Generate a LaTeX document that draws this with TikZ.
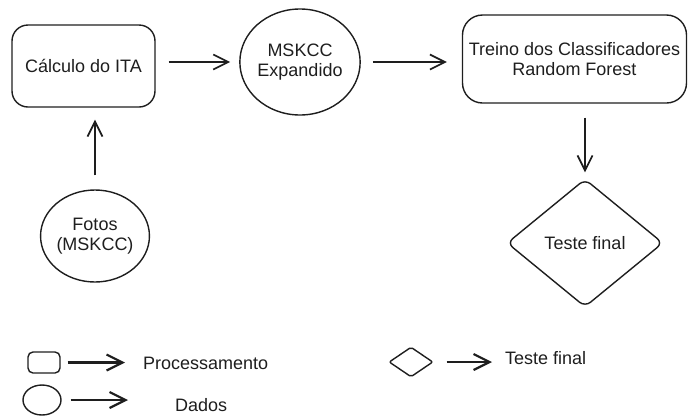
\documentclass[tikz,border=0pt]{standalone}
\usepackage{fontspec}
\setmainfont{Liberation Sans}
\usetikzlibrary{shapes.geometric,arrows.meta}
\definecolor{ink}{HTML}{1E1E1E}
\begin{document}
\begin{tikzpicture}[x=1pt,y=-1pt,
  every node/.style={font=\fontsize{18}{20.5}\selectfont, text=ink, inner sep=0pt, align=center},
  procbox/.style={draw=ink, line width=1.4pt, rectangle, rounded corners=16pt},
  databall/.style={draw=ink, line width=1.4pt, ellipse},
  testdia/.style={draw=ink, line width=1.4pt, diamond, rounded corners=7pt},
  arr/.style={draw=ink, line width=1.7pt, -{Straight Barb[length=15pt,width=15pt]}},
  legarr/.style={draw=ink, line width=2.2pt, -{Straight Barb[length=16pt,width=16pt]}}]
\useasboundingbox (0,0) rectangle (688,416);
% main flow
\node[procbox, minimum width=143pt, minimum height=82pt] (ita) at (83.5,66) {Cálculo do ITA};
\node[databall, minimum width=116pt, minimum height=106pt] (msk) at (300,62) {MSKCC\\Expandido};
\node[procbox, rounded corners=20pt, minimum width=224pt, minimum height=88pt] (tre) at (574.5,59) {Treino dos Classificadores\\Random Forest};
\node[databall, minimum width=102pt, minimum height=92pt] (fot) at (95,236) {Fotos\\(MSKCC)};
\node[testdia, minimum width=156pt, minimum height=128pt] (tst) at (585,243) {Teste final};
\draw[arr, shorten <=13pt, shorten >=9pt] (ita.east |- msk.center) -- (msk.west);
\draw[arr, shorten <=12pt, shorten >=15pt] (msk.east) -- (msk.east -| tre.west);
\draw[arr, shorten <=14pt, shorten >=12pt] (fot.north) -- (fot.north |- ita.south);
\draw[arr, shorten <=14pt, shorten >=6pt] (tst.north |- tre.south) -- (tst.north);
% legend
\node[procbox, rounded corners=5pt, minimum width=32pt, minimum height=21pt] (lp) at (44,362.5) {};
\node[anchor=west] (lpt) at (143,363) {Processamento};
\draw[legarr, shorten <=7pt, shorten >=18pt] (lp.east) -- (lp.east -| lpt.west);
\node[databall, minimum width=38pt, minimum height=30pt] (ld) at (42,400) {};
\node[anchor=west] (ldt) at (175,405) {Dados};
\draw[legarr, shorten <=9pt, shorten >=47pt] (ld.east) -- (ld.east -| ldt.west);
\node[testdia, rounded corners=2pt, minimum width=44pt, minimum height=30pt] (lt) at (411,362) {};
\node[anchor=west] (ltt) at (505,358) {Teste final};
\draw[legarr, shorten <=13pt, shorten >=13pt] (lt.east) -- (lt.east -| ltt.west);
\end{tikzpicture}
\end{document}
